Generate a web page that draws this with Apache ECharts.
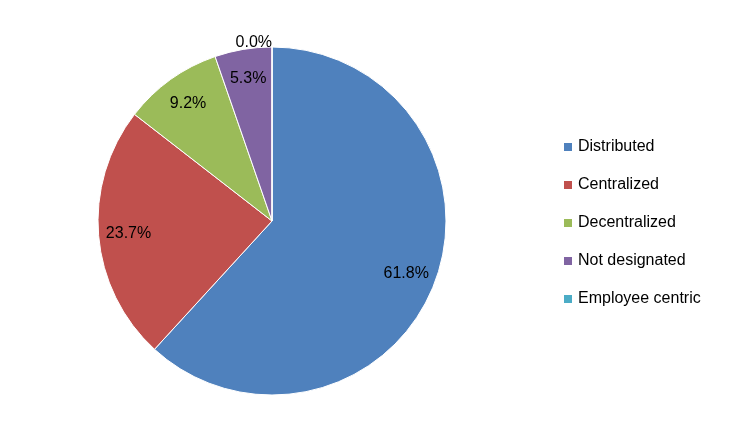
<!DOCTYPE html>
<html><head><meta charset="utf-8">
<script src="https://cdn.jsdelivr.net/npm/echarts@6/dist/echarts.min.js"></script>
<style>html,body{margin:0;background:#fff}#c{width:739px;height:440px}</style>
</head><body><div id="c"></div>
<script>
const categories = ["Distributed","Centralized","Decentralized","Not designated","Employee centric"];
const values = [61.8, 23.7, 9.2, 5.3, 0.0];
const colors = ["#4F81BD","#C0504D","#9BBB59","#8064A2","#4BACC6"];
const font = "Liberation Sans";
const chart = echarts.init(document.getElementById('c'));
const mainData = categories.map((n,i)=>({name:n,value:values[i],itemStyle:{color:colors[i]},
  label:{show:values[i]===0}}));
const labelData = categories.map((n,i)=>({name:n,value:values[i],
  label:{show:values[i]!==0}}));
chart.setOption({
  animation:false,
  legend:{orient:'vertical',left:557,top:134,itemWidth:10,itemHeight:10,itemGap:22,icon:'rect',
    textStyle:{fontFamily:font,fontSize:16,color:'#000'},data:categories},
  series:[
    {type:'pie',center:[272,221],radius:[0,174],startAngle:90,clockwise:true,avoidLabelOverlap:false,
     itemStyle:{borderColor:'#fff',borderWidth:1},
     label:{position:'outside',formatter:p=>p.value.toFixed(1)+'%',fontFamily:font,fontSize:16,color:'#000',distanceToLabelLine:0},
     labelLine:{show:false,length:4,length2:0},data:mainData},
    {type:'pie',center:[272,221],radius:[0,282],startAngle:90,clockwise:true,silent:true,avoidLabelOverlap:false,
     itemStyle:{color:'transparent'},legendHoverLink:false,
     label:{position:'inside',formatter:p=>p.value.toFixed(1)+'%',fontFamily:font,fontSize:16,color:'#000'},
     labelLine:{show:false},data:labelData}
  ]
});
</script></body></html>
